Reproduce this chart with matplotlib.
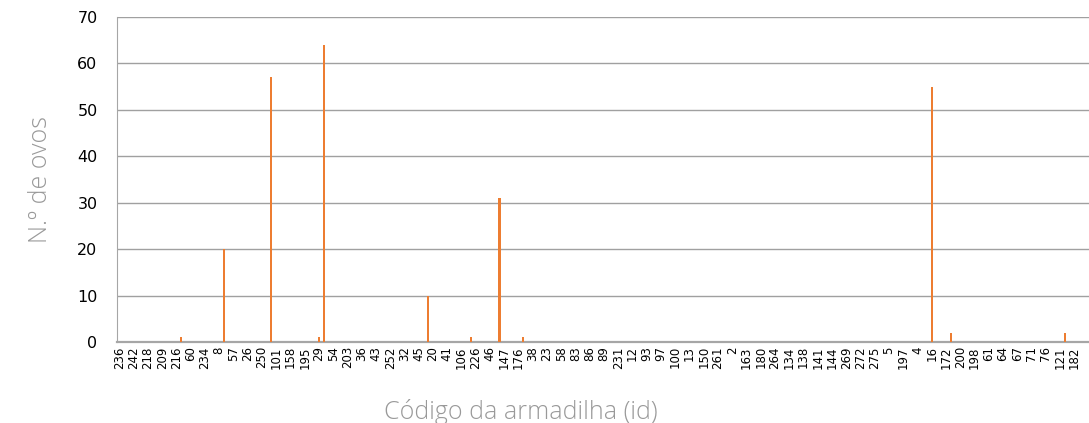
import numpy as np
import matplotlib
matplotlib.use("Agg")
import matplotlib.pyplot as plt

# visible tick labels (Excel shows every 3rd category)
tick_labels = ["236", "242", "218", "209", "216", "60", "234", "8", "57", "26",
               "250", "101", "158", "195", "29", "54", "203", "36", "43", "252",
               "32", "45", "20", "41", "106", "226", "46", "147", "176", "38",
               "23", "58", "83", "86", "89", "231", "12", "93", "97", "100",
               "13", "150", "261", "2", "163", "180", "264", "134", "138", "141",
               "144", "269", "272", "275", "5", "197", "4", "16", "172", "200",
               "198", "61", "64", "67", "71", "76", "121", "182"]
n_categories = 205
label_step = 3

# non-zero traps: category index -> number of eggs
bar_index = [13, 22, 32, 42, 43, 65, 74, 80, 85, 171, 175, 199]
bar_value = [1, 20, 57, 1, 64, 10, 1, 31, 1, 55, 2, 2]

heights = np.zeros(n_categories)
heights[bar_index] = bar_value

fig = plt.figure(figsize=(10.89, 4.23), dpi=100)
ax = fig.add_axes([117 / 1089, 81 / 423, 974 / 1089, 325 / 423])

x = np.arange(n_categories)
ax.bar(x, heights, width=0.45, color="#ED7D31", zorder=3)

ax.set_xlim(-0.5, n_categories - 0.5)
ax.set_ylim(0, 70)
ax.set_yticks(range(0, 71, 10))
ax.yaxis.grid(True, color="#a0a0a0", linewidth=1)
ax.set_axisbelow(True)

ticks = np.arange(len(tick_labels)) * label_step
ax.set_xticks(ticks)
ax.set_xticklabels(tick_labels, rotation=90, fontsize=8.5, family="DejaVu Sans")
ax.tick_params(axis="x", length=0, pad=3, colors="black")
ax.tick_params(axis="y", length=0, pad=14, labelsize=11.5, colors="black")

for s in ["top", "right"]:
    ax.spines[s].set_visible(False)
ax.spines["left"].set_color("#a6a6a6")
ax.spines["bottom"].set_color("#a6a6a6")
ax.spines["bottom"].set_linewidth(1.6)

ax.set_ylabel("N.º de ovos", fontsize=18, color="#999999", family="Open Sans", fontweight="light")
ax.yaxis.set_label_coords(-64 / 974, 0.5)
ax.set_xlabel("Código da armadilha (id)", fontsize=18, color="#999999", family="Open Sans", fontweight="light")
ax.xaxis.set_label_coords(404 / 974, -0.175)

fig.savefig("out.png", dpi=100)
